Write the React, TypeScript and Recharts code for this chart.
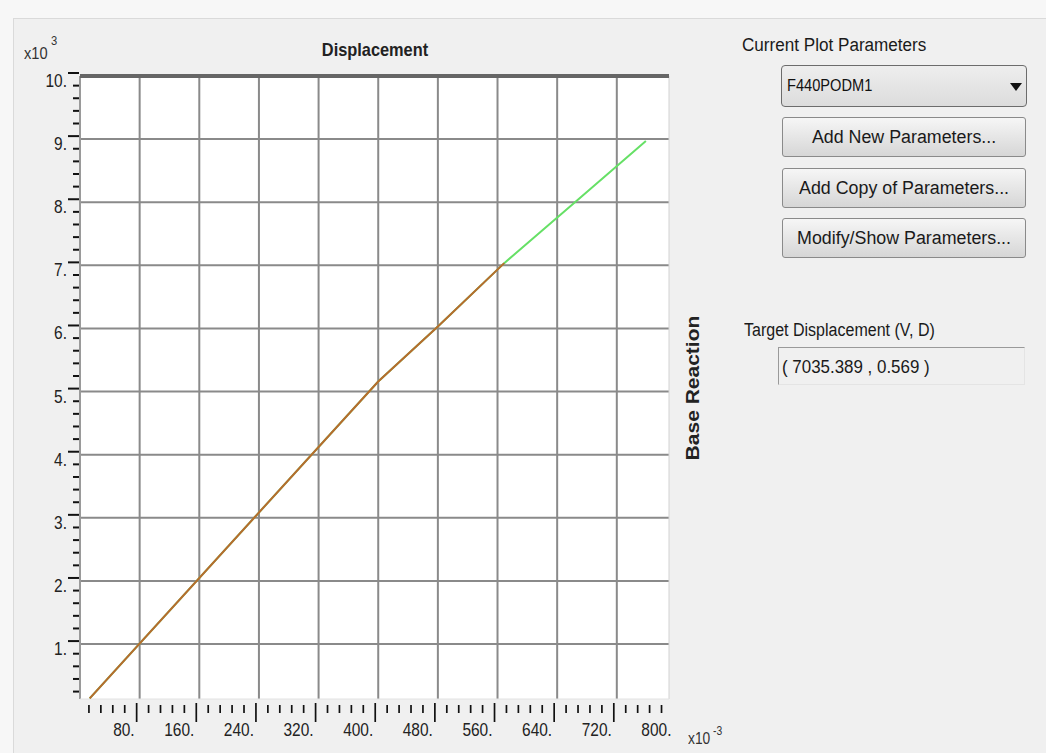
import React from "react";
import { LineChart, Line, XAxis, YAxis, CartesianGrid, ReferenceLine } from "recharts";

// pushover curve (displacement x10^-3, base reaction)
const curveD = [13, 400, 480, 569, 660, 759];
const curveV = [140, 5160, 6030, 7035, 7960, 8970];
// performance point (target displacement)
const targetD = 569;
const targetV = 7035.389;

const xLabels = [80, 160, 240, 320, 400, 480, 560, 640, 720, 800];
const yLabels = [1000, 2000, 3000, 4000, 5000, 6000, 7000, 8000, 9000, 10000];
const xGrid = [80, 160, 240, 320, 400, 480, 560, 640, 720];
const yGrid = [1000, 2000, 3000, 4000, 5000, 6000, 7000, 8000, 9000];

const X_MIN = 0;
const X_MAX = 790;
const Y_MIN = 130;
const Y_MAX = 10000;

const fullCurve = curveD.map((d, i) => ({ x: d, y: curveV[i] }));
const toTarget = fullCurve.filter((p) => p.x <= targetD);

const xTicks: number[] = [];
for (let v = 16; v < X_MAX; v += 16) xTicks.push(v);
xTicks.push(800);
const yTicks: number[] = [];
for (let v = 200; v <= Y_MAX; v += 200) yTicks.push(v);

const FONT = '"Liberation Sans", Arial, sans-serif';
const SQ = 0.86; // screenshot is squeezed horizontally

const XTick = (props: any) => {
  const { x, y, payload } = props;
  const v = payload.value;
  const major = xLabels.includes(v);
  const hasMark = v < X_MAX;
  return (
    <g>
      {hasMark && (
        <line x1={x - 3} x2={x - 3} y1={y + (major ? 4 : 6)} y2={y + (major ? 23 : 14)} stroke="#111" strokeWidth={1.7} />
      )}
      {major && (
        <g transform={`translate(${x - 5},${y + 37}) scale(${SQ},1)`}>
          <text textAnchor="end" fontSize={18} fill="#222" fontFamily={FONT}>
            {v + "."}
          </text>
        </g>
      )}
    </g>
  );
};

const YTick = (props: any) => {
  const { x, y, payload } = props;
  const v = payload.value;
  const major = yLabels.includes(v);
  return (
    <g>
      <line x1={major ? x - 12 : x - 7} x2={x - 1} y1={y - 3} y2={y - 3} stroke="#111" strokeWidth={2} />
      {major && (
        <g transform={`translate(${x - 13},${y + 11}) scale(${SQ},1)`}>
          <text textAnchor="end" fontSize={18} fill="#222" fontFamily={FONT}>
            {v / 1000 + "."}
          </text>
        </g>
      )}
    </g>
  );
};

const sq = (k = SQ, origin = "left center"): React.CSSProperties => ({
  transform: `scaleX(${k})`,
  transformOrigin: origin,
  whiteSpace: "nowrap",
});

const Button = ({ top, label }: { top: number; label: string }) => (
  <div
    style={{
      position: "absolute",
      left: 782,
      top,
      width: 244,
      height: 40,
      boxSizing: "border-box",
      border: "1px solid #8a8a8a",
      borderRadius: 3,
      background: "linear-gradient(#f6f6f6, #e6e6e6 50%, #d6d6d6)",
      display: "flex",
      alignItems: "center",
      justifyContent: "center",
      fontSize: 18,
      color: "#1a1a1a",
    }}
  >
    <span style={sq(0.99, "center")}>{label}</span>
  </div>
);

export default function App() {
  return (
    <div
      style={{
        position: "absolute",
        left: 0,
        top: 0,
        width: 1046,
        height: 753,
        overflow: "hidden",
        background: "#f7f7f7",
        fontFamily: FONT,
      }}
    >
      <div
        style={{
          position: "absolute",
          left: 13,
          top: 18,
          width: 1040,
          height: 740,
          borderLeft: "1px solid #dadada",
          borderTop: "1px solid #dadada",
          background: "#f0f0f0",
        }}
      />
      <div style={{ position: "absolute", left: 0, top: 0 }}>
        <LineChart width={1046} height={753} margin={{ top: 76, right: 377, bottom: 0, left: 0 }}>
          <CartesianGrid fill="#ffffff" horizontal={false} vertical={false} />
          <XAxis
            dataKey="x"
            type="number"
            domain={[X_MIN, X_MAX]}
            allowDataOverflow
            ticks={xTicks}
            interval={0}
            height={54}
            tickSize={0}
            tickMargin={0}
            axisLine={false}
            tickLine={false}
            tick={<XTick />}
          />
          <YAxis
            dataKey="y"
            type="number"
            domain={[Y_MIN, Y_MAX]}
            allowDataOverflow
            ticks={yTicks}
            interval={0}
            width={80}
            tickSize={0}
            tickMargin={0}
            axisLine={false}
            tickLine={false}
            tick={<YTick />}
          />
          {xGrid.map((v) => (
            <ReferenceLine key={"gx" + v} x={v} stroke="#8a8a8a" strokeWidth={2} />
          ))}
          {yGrid.map((v) => (
            <ReferenceLine key={"gy" + v} y={v} stroke="#8a8a8a" strokeWidth={2} />
          ))}
          <ReferenceLine x={X_MIN} stroke="#9a9a9a" strokeWidth={2} />
          <ReferenceLine x={X_MAX} stroke="#d2d2d2" strokeWidth={1} />
          <ReferenceLine y={Y_MIN} stroke="#e2e2e2" strokeWidth={1} />
          <ReferenceLine y={Y_MAX} stroke="#666666" strokeWidth={4} />
          <Line
            data={fullCurve}
            dataKey="y"
            type="linear"
            stroke="#66e066"
            strokeWidth={2}
            dot={false}
            isAnimationActive={false}
          />
          <Line
            data={toTarget}
            dataKey="y"
            type="linear"
            stroke="#b86a2e"
            strokeWidth={2}
            dot={false}
            isAnimationActive={false}
          />
        </LineChart>
      </div>

      {/* axis multipliers and titles */}
      <div style={{ position: "absolute", left: 24, top: 44, fontSize: 17, color: "#333", ...sq() }}>x10</div>
      <div style={{ position: "absolute", left: 51, top: 33, fontSize: 13, color: "#333", ...sq() }}>3</div>
      <div style={{ position: "absolute", left: 688, top: 730, fontSize: 16, color: "#333", ...sq() }}>x10</div>
      <div style={{ position: "absolute", left: 713, top: 724, fontSize: 12, color: "#333", ...sq() }}>-3</div>
      <div
        style={{
          position: "absolute",
          left: 275,
          top: 39,
          width: 200,
          textAlign: "center",
          fontSize: 19,
          fontWeight: "bold",
          color: "#222",
          lineHeight: "22px",
          ...sq(SQ, "center"),
        }}
      >
        Displacement
      </div>
      <div
        style={{
          position: "absolute",
          left: 693 - 100,
          top: 388 - 12,
          width: 200,
          textAlign: "center",
          fontSize: 21,
          fontWeight: "bold",
          color: "#222",
          lineHeight: "24px",
          transform: "rotate(-90deg) scaleY(0.9)",
          transformOrigin: "center",
        }}
      >
        Base Reaction
      </div>

      {/* right panel */}
      <div style={{ position: "absolute", left: 742, top: 34, fontSize: 18, color: "#1a1a1a", lineHeight: "22px", ...sq(0.95) }}>
        Current Plot Parameters
      </div>
      <div
        style={{
          position: "absolute",
          left: 781,
          top: 65,
          width: 246,
          height: 42,
          boxSizing: "border-box",
          border: "1.5px solid #6c6c6c",
          borderRadius: 4,
          background: "linear-gradient(#eeeeee, #dcdcdc)",
          fontSize: 17,
          color: "#111",
        }}
      >
        <div style={{ position: "absolute", left: 5, top: 9, lineHeight: "22px", ...sq() }}>F440PODM1</div>
        <svg style={{ position: "absolute", left: 228, top: 17 }} width={12} height={8}>
          <polygon points="0,0 12,0 6,8" fill="#111" />
        </svg>
      </div>
      <Button top={117} label="Add New Parameters..." />
      <Button top={168} label="Add Copy of Parameters..." />
      <Button top={218} label="Modify/Show Parameters..." />

      <div style={{ position: "absolute", left: 744, top: 319, fontSize: 18, color: "#1a1a1a", lineHeight: "22px", ...sq(0.89) }}>
        Target Displacement (V, D)
      </div>
      <div
        style={{
          position: "absolute",
          left: 778,
          top: 347,
          width: 247,
          height: 38,
          boxSizing: "border-box",
          borderTop: "1.5px solid #9a9a9a",
          borderLeft: "1.5px solid #9a9a9a",
          borderBottom: "1px solid #e4e4e4",
          borderRight: "1px solid #e4e4e4",
          fontSize: 18,
          color: "#1a1a1a",
        }}
      >
        <div style={{ position: "absolute", left: 3, top: 8, lineHeight: "22px", ...sq(0.94) }}>
          {"( " + targetV.toFixed(3) + " , " + (targetD / 1000).toFixed(3) + " )"}
        </div>
      </div>
    </div>
  );
}
